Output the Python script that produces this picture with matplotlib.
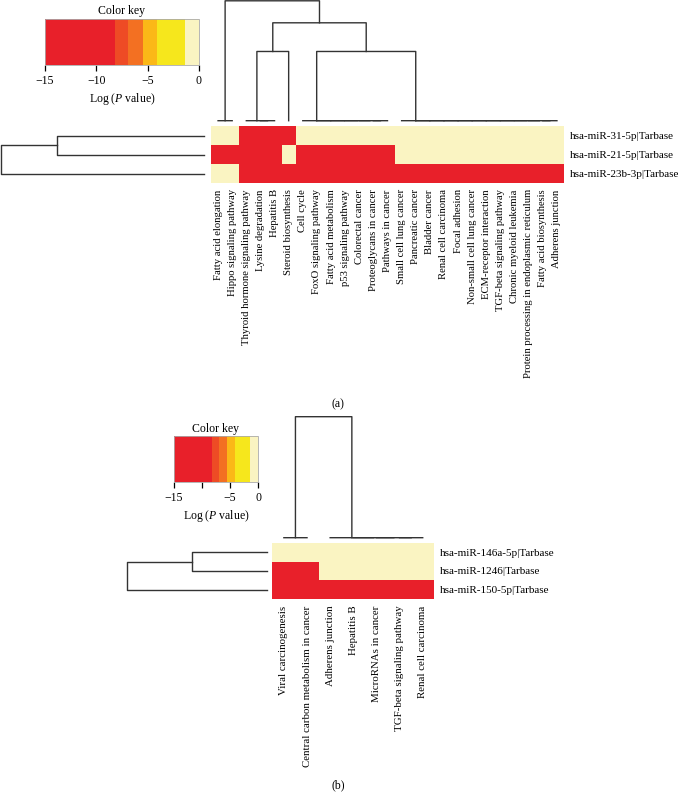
import numpy as np
import matplotlib
matplotlib.use("Agg")
import matplotlib.pyplot as plt
from matplotlib.colors import ListedColormap, BoundaryNorm
from matplotlib.cm import ScalarMappable
from matplotlib.ticker import NullLocator

plt.rcParams["font.family"] = ["Liberation Serif", "DejaVu Serif"]
plt.rcParams["mathtext.fontset"] = "custom"
plt.rcParams["mathtext.rm"] = "Liberation Serif"
plt.rcParams["mathtext.it"] = "Liberation Serif:italic"

# ── colour key (binned log P values) ─────────────────────────────────────────
KEY_BOUNDS = [-15, -8.2, -6.9, -5.5, -4.1, -1.4, 0]
KEY_COLORS = ["#E8202A", "#EE4B25", "#F37022", "#FBB817", "#F6E71C", "#FAF4C2"]
KEY_TICKS = [-15, -10, -5, 0]

# ── panel (a) data ───────────────────────────────────────────────────────────
pathways_a = ["Fatty acid elongation", "Hippo signaling pathway",
              "Thyroid hormone signaling pathway", "Lysine degradation",
              "Hepatitis B", "Steroid biosynthesis", "Cell cycle",
              "FoxO signaling pathway", "Fatty acid metabolism",
              "p53 signaling pathway", "Colorectal cancer",
              "Proteoglycans in cancer", "Pathways in cancer",
              "Small cell lung cancer", "Pancreatic cancer", "Bladder cancer",
              "Renal cell carcinoma", "Focal adhesion",
              "Non-small cell lung cancer", "ECM-receptor interaction",
              "TGF-beta signaling pathway", "Chronic myeloid leukemia",
              "Protein processing in endoplasmic reticulum",
              "Fatty acid biosynthesis", "Adherens junction"]
mirs_a = ["hsa-miR-31-5p|Tarbase", "hsa-miR-21-5p|Tarbase",
          "hsa-miR-23b-3p|Tarbase"]
logp_miR31 = [-0.5, -0.5, -12, -12, -12, -12, -0.5, -0.5, -0.5, -0.5, -0.5,
              -0.5, -0.5, -0.5, -0.5, -0.5, -0.5, -0.5, -0.5, -0.5, -0.5,
              -0.5, -0.5, -0.5, -0.5]
logp_miR21 = [-12, -12, -12, -12, -12, -0.5, -12, -12, -12, -12, -12, -12,
              -12, -0.5, -0.5, -0.5, -0.5, -0.5, -0.5, -0.5, -0.5, -0.5,
              -0.5, -0.5, -0.5]
logp_miR23b = [-0.5, -0.5, -12, -12, -12, -12, -12, -12, -12, -12, -12, -12,
               -12, -12, -12, -12, -12, -12, -12, -12, -12, -12, -12, -12, -12]

# ── panel (b) data ───────────────────────────────────────────────────────────
pathways_b = ["Viral carcinogenesis", "Central carbon metabolism in cancer",
              "Adherens junction", "Hepatitis B", "MicroRNAs in cancer",
              "TGF-beta signaling pathway", "Renal cell carcinoma"]
mirs_b = ["hsa-miR-146a-5p|Tarbase", "hsa-miR-1246|Tarbase",
          "hsa-miR-150-5p|Tarbase"]
logp_miR146a = [-0.5, -0.5, -0.5, -0.5, -0.5, -0.5, -0.5]
logp_miR1246 = [-12, -12, -0.5, -0.5, -0.5, -0.5, -0.5]
logp_miR150 = [-12, -12, -12, -12, -12, -12, -12]


def chain(first, last):
    # right-nested merge of consecutive leaves (ties merged at height 0)
    node = (last - 1, last)
    for i in range(last - 2, first - 1, -1):
        node = (i, node)
    return node


# cluster trees (leaf order as shown); heights come from complete linkage
col_tree_a = ((0, 1), (((2, (3, 4)), 5), (chain(6, 12), chain(13, 24))))
row_tree_a = ((0, 1), 2)
col_tree_b = ((0, 1), chain(2, 6))
row_tree_b = ((0, 1), 2)

W, H = 680, 799
cmap = ListedColormap(KEY_COLORS)
norm = BoundaryNorm(KEY_BOUNDS, cmap.N)
LINE = "#333333"


def box(fig, l, t, r, b):
    return fig.add_axes([l / W, 1 - b / H, (r - l) / W, (b - t) / H])


def dendro(tree, vecs):
    if isinstance(tree, int):
        return tree + 0.5, 0.0, [tree], []
    xl, hl, ll, sl = dendro(tree[0], vecs)
    xr, hr, lr, sr = dendro(tree[1], vecs)
    h = max(np.linalg.norm(vecs[i] - vecs[j]) for i in ll for j in lr)
    seg = ([xl, xl, xr, xr], [hl, h, h, hr])
    return (xl + xr) / 2, h, ll + lr, sl + sr + [seg]


def draw_panel(fig, mat, rows, cols, key_px, cdend_px, heat_px, rdend_px,
               col_tree, row_tree, col_fs, key_labels):
    nr, nc = mat.shape

    # heatmap
    ax = box(fig, *heat_px)
    ax.pcolormesh(mat, cmap=cmap, norm=norm)
    ax.set_xlim(0, nc)
    ax.set_ylim(nr, 0)
    ax.set_xticks(np.arange(nc) + 0.5)
    ax.set_xticklabels(cols, rotation=90, fontsize=col_fs, va="top")
    ax.set_yticks(np.arange(nr) + 0.5)
    ax.set_yticklabels(rows, fontsize=8)
    ax.yaxis.tick_right()
    ax.tick_params(axis="x", length=0, pad=4.5)
    ax.tick_params(axis="y", length=0, pad=4)
    for s in ax.spines.values():
        s.set_visible(False)

    # column dendrogram
    axc = box(fig, *cdend_px)
    _, top, _, segs = dendro(col_tree, mat.T)
    for xs, hs in segs:
        axc.plot(xs, hs, color=LINE, lw=1.0, clip_on=False,
                 solid_capstyle="projecting", snap=False)
    axc.set_xlim(0, nc)
    axc.set_ylim(0, top)
    axc.axis("off")

    # row dendrogram
    axr = box(fig, *rdend_px)
    _, top, _, segs = dendro(row_tree, mat)
    for ys, hs in segs:
        axr.plot(hs, ys, color=LINE, lw=1.0, clip_on=False)
    axr.set_ylim(nr, 0)
    axr.set_xlim(top, 0)
    axr.axis("off")

    # colour key
    axk = box(fig, *key_px)
    cb = fig.colorbar(ScalarMappable(norm=norm, cmap=cmap), cax=axk,
                      orientation="horizontal", spacing="proportional",
                      ticks=KEY_TICKS)
    cb.ax.set_xticklabels(key_labels)
    cb.ax.xaxis.set_minor_locator(NullLocator())
    cb.outline.set_edgecolor("#aaaaaa")
    cb.outline.set_linewidth(0.6)
    axk.tick_params(axis="x", which="major", length=4.5, width=0.9, pad=3,
                    labelsize=8.5)
    axk.set_title("Color key", fontsize=8.5, pad=3)
    axk.set_xlabel("Log ($P$ value)", fontsize=8.5, labelpad=2.5)


fig = plt.figure(figsize=(W / 100, H / 100), dpi=100)

mat_a = np.array([logp_miR31, logp_miR21, logp_miR23b], dtype=float)
draw_panel(fig, mat_a, mirs_a, pathways_a,
           key_px=(45, 18.5, 199, 65), cdend_px=(211, 0.8, 564, 120.7),
           heat_px=(211, 126, 564, 183), rdend_px=(1, 126, 204, 183),
           col_tree=col_tree_a, row_tree=row_tree_a, col_fs=7.7,
           key_labels=["\u221215", "\u221210", "\u22125", "0"])

mat_b = np.array([logp_miR146a, logp_miR1246, logp_miR150], dtype=float)
draw_panel(fig, mat_b, mirs_b, pathways_b,
           key_px=(174, 436, 258, 482), cdend_px=(272.3, 416.7, 434.3, 537.7),
           heat_px=(272.3, 542.7, 434.3, 599.3),
           rdend_px=(126.7, 542.7, 266.7, 599.3),
           col_tree=col_tree_b, row_tree=row_tree_b, col_fs=7.8,
           key_labels=["\u221215", "", "\u22125", "0"])

fig.text(338 / W, 1 - 404 / H, "(a)", ha="center", va="center", fontsize=8.5)
fig.text(338 / W, 1 - 785 / H, "(b)", ha="center", va="center", fontsize=8.5)

fig.savefig("out.png", dpi=100)
